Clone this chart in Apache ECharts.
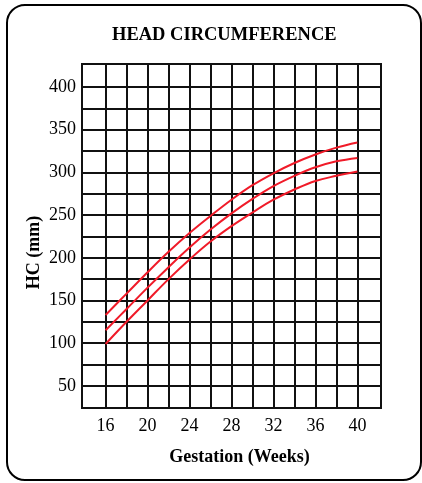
<!DOCTYPE html>
<html>
<head>
<meta charset="utf-8">
<title>Head Circumference</title>
<script src="https://cdn.jsdelivr.net/npm/echarts@6/dist/echarts.min.js"></script>
<style>
  html, body { margin: 0; padding: 0; background: #fff; }
  #chart { width: 422px; height: 483px; }
</style>
</head>
<body>
<div id="chart"></div>
<script>
// gestation weeks where the curves are read
const weeks = [16, 18, 20, 22, 24, 26, 28, 30, 32, 34, 36, 38, 40]
// HC in mm, three centile curves
const upperHC = [133, 158, 183, 207, 229, 249, 268, 285, 299, 311, 321, 329, 335]
const middleHC = [115, 140, 165, 189, 212, 233, 252, 269, 284, 296, 306, 313, 317]
const lowerHC = [99, 125, 150, 175, 198, 219, 237, 253, 268, 280, 290, 296, 301]

// grid lines and tick labels
const xGridValues = [16, 18, 20, 22, 24, 26, 28, 30, 32, 34, 36, 38, 40]
const xLabelValues = [16, 20, 24, 28, 32, 36, 40]
const yGridValues = [50, 75, 100, 125, 150, 175, 200, 225, 250, 275, 300, 325, 350, 375, 400]
const yLabelValues = [50, 100, 150, 200, 250, 300, 350, 400]

const serif = 'Liberation Serif'
const lineRed = '#f01a28'
const gridBlack = '#111'

function toPairs(values) {
  return weeks.map((w, i) => [w, values[i]])
}

const chart = echarts.init(document.getElementById('chart'), null, { renderer: 'canvas' })

const curve = (name, values) => ({
  name: name,
  type: 'line',
  smooth: 0.4,
  showSymbol: false,
  silent: true,
  lineStyle: { color: lineRed, width: 2 },
  data: toPairs(values)
})

chart.setOption({
  backgroundColor: '#fff',
  animation: false,
  title: {
    text: 'HEAD CIRCUMFERENCE',
    left: 112,
    top: 26,
    padding: 0,
    textStyle: {
      fontFamily: serif,
      fontSize: 18.5,
      fontWeight: 'bold',
      color: '#000'
    }
  },
  graphic: [{
    type: 'rect',
    shape: { x: 7, y: 5, width: 414, height: 475, r: 18 },
    style: { fill: null, stroke: '#000', lineWidth: 2 },
    silent: true
  }],
  grid: {
    left: 82,
    right: 41,
    top: 64,
    bottom: 75,
    show: true,
    borderColor: gridBlack,
    borderWidth: 2,
    backgroundColor: 'transparent'
  },
  xAxis: {
    type: 'value',
    min: 13.75,
    max: 42.25,
    name: 'Gestation (Weeks)',
    nameLocation: 'middle',
    nameGap: 40,
    nameTextStyle: {
      fontFamily: serif,
      fontSize: 18,
      fontWeight: 'bold',
      color: '#000',
      padding: [0, 0, 0, 16]
    },
    axisLine: { show: false },
    axisTick: { show: false, customValues: xGridValues },
    axisLabel: {
      customValues: xLabelValues,
      fontFamily: serif,
      fontSize: 18,
      color: '#000',
      margin: 9
    },
    splitLine: { show: true, lineStyle: { color: gridBlack, width: 2 } }
  },
  yAxis: {
    type: 'value',
    min: 24,
    max: 427,
    name: 'HC (mm)',
    nameLocation: 'middle',
    nameGap: 39,
    nameMoveOverlap: false,
    nameTextStyle: {
      fontFamily: serif,
      fontSize: 18,
      fontWeight: 'bold',
      color: '#000',
      padding: [0, 33, 0, 0]
    },
    axisLine: { show: false },
    axisTick: { show: false, customValues: yGridValues },
    axisLabel: {
      customValues: yLabelValues,
      fontFamily: serif,
      fontSize: 18,
      color: '#000',
      margin: 6
    },
    splitLine: { show: true, lineStyle: { color: gridBlack, width: 2 } }
  },
  series: [
    curve('Upper', upperHC),
    curve('Middle', middleHC),
    curve('Lower', lowerHC)
  ]
})
</script>
</body>
</html>
